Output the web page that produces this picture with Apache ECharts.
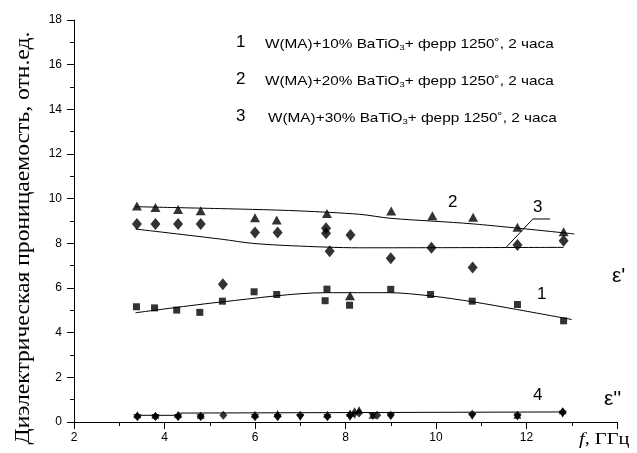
<!DOCTYPE html>
<html><head><meta charset="utf-8">
<script src="https://cdn.jsdelivr.net/npm/echarts@6/dist/echarts.min.js"></script>
<style>html,body{margin:0;padding:0;background:#fff}#c{width:637px;height:453px}</style>
</head><body><div id="c"></div>
<script>
// ε' data: [f (GHz), value]
const s1Squares = [[3.38,5.16],[3.78,5.11],[4.27,5.01],[4.78,4.91],[5.28,5.41],[5.98,5.83],[6.48,5.71],[7.59,5.95],[7.55,5.43],[8.09,5.23],[9.0,5.94],[9.88,5.71],[10.8,5.41],[11.8,5.26],[12.82,4.53]];
const s2Triangles = [[3.39,9.67],[3.80,9.61],[4.30,9.52],[4.80,9.46],[6.00,9.15],[6.48,9.04],[7.59,9.34],[8.10,5.65],[9.01,9.45],[9.92,9.24],[10.82,9.17],[11.80,8.72],[12.82,8.52]];
const s3Diamonds = [[3.39,8.87],[3.80,8.87],[4.30,8.87],[4.80,8.87],[5.29,6.17],[6.00,8.48],[6.50,8.48],[7.57,8.67],[7.57,8.45],[7.65,7.65],[8.11,8.37],[9.0,7.33],[9.9,7.80],[10.81,6.92],[11.80,7.92],[12.82,8.12]];
const fit1 = [[3.36,4.89],[5.28,5.38],[7.57,5.79],[8.97,5.79],[9.86,5.65],[10.82,5.38],[11.78,5.04],[13.0,4.59]];
const fit2 = [[3.36,9.64],[5.94,9.52],[7.0,9.45],[8.31,9.30],[9.0,9.12],[10.82,8.87],[13.06,8.42]];
const fit3 = [[3.36,8.64],[5.28,8.18],[5.94,8.0],[6.83,7.89],[8.31,7.80],[12.82,7.82]];
const leader3 = [[11.55,7.82],[12.14,9.09],[12.52,9.09]];
// ε'' data
const e2Up = [[3.4,0.32],[3.8,0.30],[4.3,0.35],[4.8,0.30],[6.0,0.35],[6.5,0.38],[7.6,0.35],[8.1,0.40],[8.2,0.50],[8.3,0.55],[8.6,0.30],[11.8,0.30],[12.8,0.50]];
const e3Diam = [[3.4,0.25],[3.8,0.25],[4.3,0.25],[4.8,0.25],[5.3,0.30],[6.0,0.25],[6.5,0.25],[7.0,0.30],[7.6,0.25],[8.1,0.30],[8.3,0.40],[8.7,0.30],[9.0,0.30],[10.8,0.35],[11.8,0.30],[12.8,0.45]];
const e1Down = [[3.4,0.20],[3.8,0.20],[4.3,0.20],[4.8,0.20],[6.0,0.20],[6.5,0.20],[7.0,0.20],[7.6,0.20],[8.1,0.20],[8.2,0.30],[8.6,0.25],[9.0,0.25],[10.8,0.25],[11.8,0.22],[12.8,0.35]];
const fit4 = [[3.36,0.30],[4.32,0.30],[4.32,0.40],[12.82,0.45]];
const xTicks = [2,4,6,8,10,12];
const yName = 'Диэлектрическая проницаемость, отн.ед.';
const legendNames = ['W(MA)+10% BaTiO{sub|3}+ ферр 1250˚, 2 часа','W(MA)+20% BaTiO{sub|3}+ ферр 1250˚, 2 часа','W(MA)+30% BaTiO{sub|3}+ ферр 1250˚, 2 часа'];

const chart = echarts.init(document.getElementById('c'));
const K = '#000';
const fitLine = (d) => ({type:'line', data:d, symbol:'none', smooth:0.3, lineStyle:{color:K,width:1}, silent:true, z:1, animation:false});
const pts = (d, sym, size) => ({type:'scatter', data:d, symbol:sym, symbolSize:size, itemStyle:{color:K}, z:3, animation:false});
const lg = legendNames.map((t,i)=>[
  {type:'text', left:236, top:[34,71,108][i], style:{text:String(i+1), fontSize:17, fontFamily:'Liberation Sans', fill:K}},
  {type:'text', x:[265,265,268][i], y:[36,73,110][i], scaleX:1.18, style:{text:t, fontSize:13, fontFamily:'Liberation Sans', fill:K,
     rich:{sub:{fontSize:8, fontFamily:'Liberation Sans', padding:[8,0,0,0], verticalAlign:'bottom'}}}}
]).flat();
chart.setOption({
  animation:false,
  grid:{left:74, right:20, top:20, bottom:31, containLabel:false},
  xAxis:{type:'value', min:2, max:14, interval:2,
    axisLine:{lineStyle:{color:K,width:1}},
    axisTick:{length:7, lineStyle:{color:K}},
    minorTick:{show:true, splitNumber:2, length:4, lineStyle:{color:K}},
    splitLine:{show:false},
    axisLabel:{color:K, fontSize:12, fontFamily:'Liberation Sans', margin:10,
      formatter:(v)=> xTicks.includes(v)? String(v): ''}},
  yAxis:{type:'value', min:0, max:18, interval:2,
    axisLine:{lineStyle:{color:K,width:1}},
    axisTick:{length:7, lineStyle:{color:K}},
    minorTick:{show:true, splitNumber:2, length:4, lineStyle:{color:K}},
    splitLine:{show:false},
    axisLabel:{color:K, fontSize:12, fontFamily:'Liberation Sans', margin:12}},
  graphic:[
    ...lg,
    {type:'text', x:24, y:238, rotation:Math.PI/2, scaleX:1.18,
      style:{text:yName, fontSize:20, fontFamily:'Liberation Serif', fill:K, align:'center', verticalAlign:'middle'}},
    {type:'text', left:448, top:194, style:{text:'2', fontSize:17, fontFamily:'Liberation Sans', fill:K}},
    {type:'text', left:533, top:199, style:{text:'3', fontSize:17, fontFamily:'Liberation Sans', fill:K}},
    {type:'text', left:537, top:286, style:{text:'1', fontSize:17, fontFamily:'Liberation Sans', fill:K}},
    {type:'text', left:533, top:387, style:{text:'4', fontSize:17, fontFamily:'Liberation Sans', fill:K}},
    {type:'text', left:612, top:266, style:{text:"ε'", fontSize:21, fontFamily:'Liberation Sans', fill:K}},
    {type:'text', left:604, top:389, style:{text:"ε''", fontSize:21, fontFamily:'Liberation Sans', fill:K}},
    {type:'text', x:579, y:431, scaleX:1.2, style:{text:'{i|f}, ГГц', fontSize:17, fontFamily:'Liberation Serif', fill:K,
       rich:{i:{fontStyle:'italic', fontSize:17, fontFamily:'Liberation Serif'}}}}
  ],
  series:[
    fitLine(fit1), fitLine(fit2), fitLine(fit3),
    {type:'line', data:leader3, symbol:'none', lineStyle:{color:K,width:1}, z:1, silent:true},
    {type:'line', data:fit4, symbol:'none', lineStyle:{color:K,width:1}, z:1, silent:true},
    pts(s1Squares,'rect',7),
    pts(s2Triangles,'triangle',[10,9]),
    pts(s3Diamonds,'diamond',[10,12]),
    pts(e2Up,'triangle',[8,7]),
    pts(e3Diam,'diamond',[8,9]),
    pts(e1Down,'path://M0,0 L10,0 L5,10 Z',[8,7])
  ]
});
</script></body></html>
